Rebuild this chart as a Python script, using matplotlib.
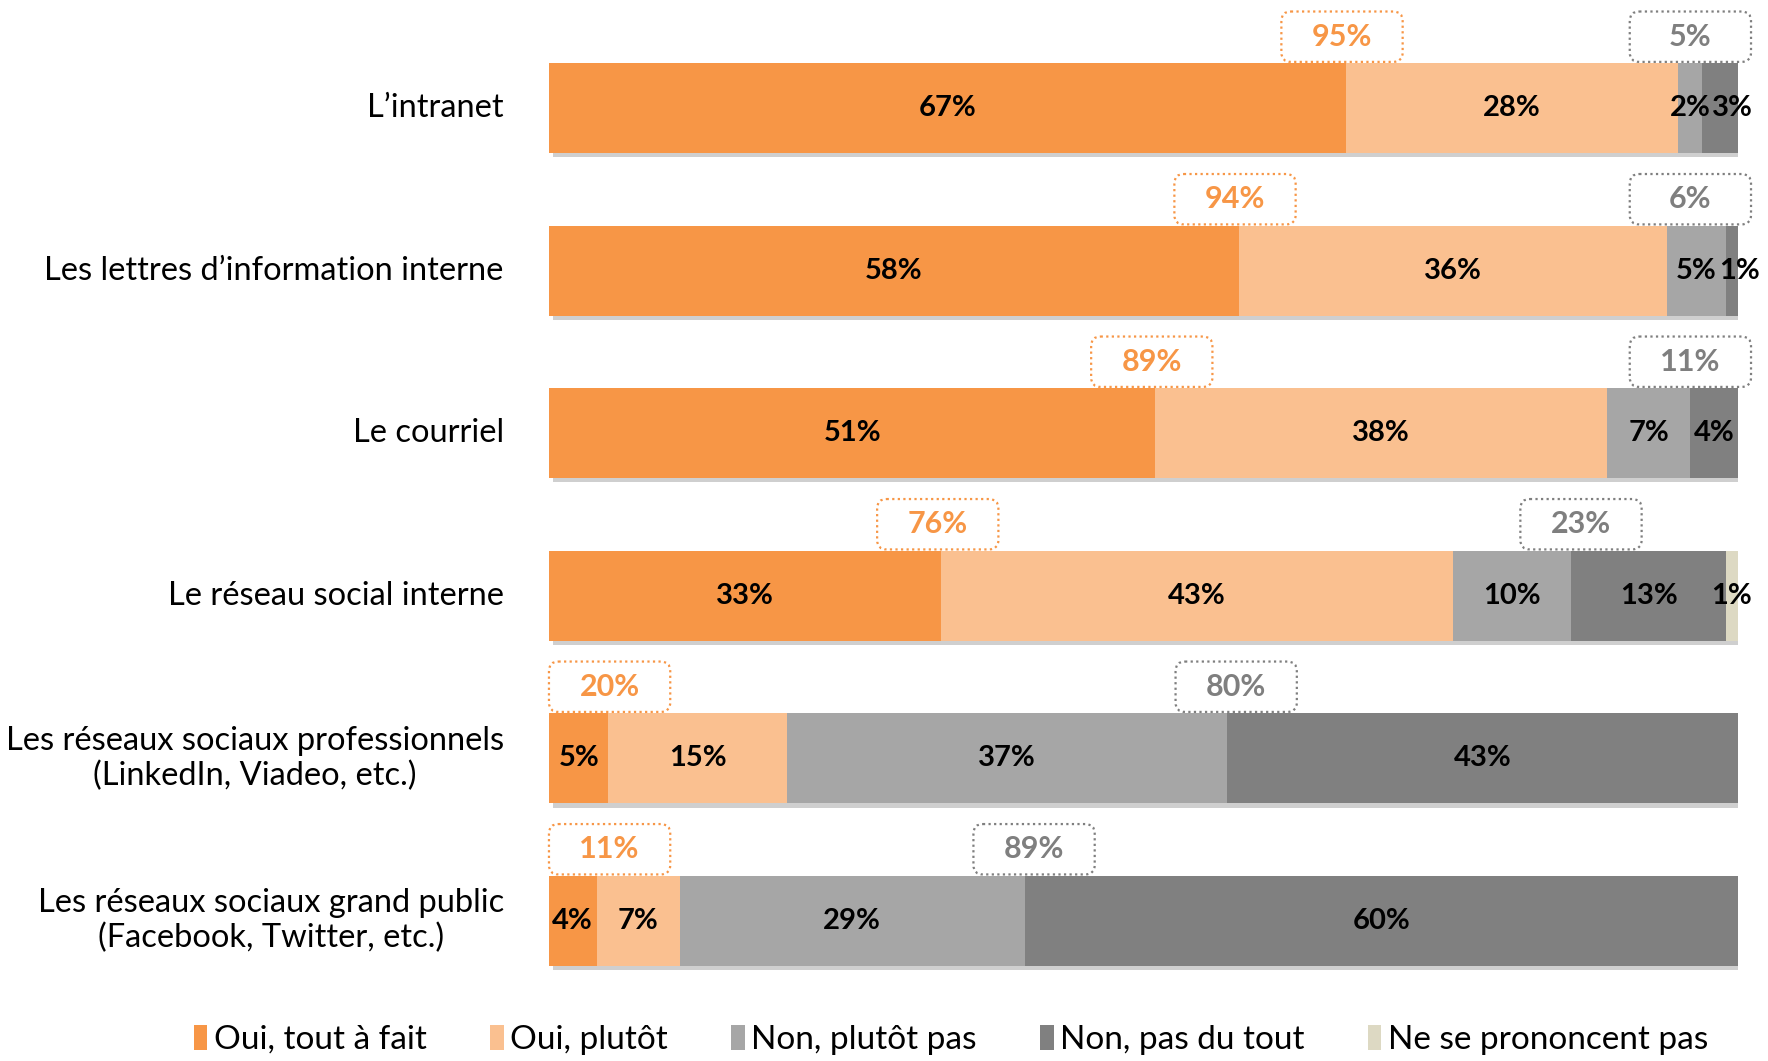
import matplotlib
matplotlib.use("Agg")
import numpy as np
import matplotlib.pyplot as plt
import matplotlib.patheffects as pe
from matplotlib.patches import FancyBboxPatch, Patch

plt.rcParams["font.family"] = ["Lato", "DejaVu Sans"]

categories = [
    "L\u2019intranet",
    "Les lettres d\u2019information interne",
    "Le courriel",
    "Le réseau social interne",
    "Les réseaux sociaux professionnels\n(LinkedIn, Viadeo, etc.)",
    "Les réseaux sociaux grand public\n(Facebook, Twitter, etc.)",
]
series_names = ["Oui, tout à fait", "Oui, plutôt", "Non, plutôt pas",
                "Non, pas du tout", "Ne se prononcent pas"]
oui_tout = [67, 58, 51, 33, 5, 4]
oui_plutot = [28, 36, 38, 43, 15, 7]
non_plutot = [2, 5, 7, 10, 37, 29]
non_pas = [3, 1, 4, 13, 43, 60]
nsp = [0, 0, 0, 1, 0, 0]
total_oui = [95, 94, 89, 76, 20, 11]
total_non = [5, 6, 11, 23, 80, 89]

colors = ["#F79646", "#FAC090", "#A6A6A6", "#808080", "#DDD9C3"]
orange_txt = "#F79646"
gray_txt = "#7F7F7F"

fig = plt.figure(figsize=(17.68, 10.61), dpi=100)
ax = fig.add_axes([0.3105, 0.0556, 0.6725, 0.919])

y = np.arange(len(categories))
series = [oui_tout, oui_plutot, non_plutot, non_pas, nsp]
left = np.zeros(len(categories))
shadow = [pe.SimplePatchShadow(offset=(3, -3), shadow_rgbFace="#a8a8a8", alpha=0.55),
          pe.Normal()]
for k, (vals, col, name) in enumerate(zip(series, colors, series_names)):
    vals = np.array(vals, dtype=float)
    bars = ax.barh(y, vals, left=left, height=0.555, color=col, label=name,
                   edgecolor="none")
    for b in bars:
        b.set_path_effects(shadow)
    for i, (yi, v, l) in enumerate(zip(y, vals, left)):
        if v <= 0:
            continue
        x = l + v / 2
        # tiny end segment right after another small one: push its label right
        prev = series[k - 1][i] if k > 0 else 99
        if v < 4 and l + v >= 99 and prev < 6:
            x += 1.0 if prev < 4 else 0.6
        ax.text(x, yi, f"{int(v)}%", ha="center", va="center",
                fontsize=21, fontweight="bold", color="black")
    left += vals

# dotted total boxes above each bar
box_w, box_h = 10.2, 0.31
aspect = (1 / 162.5) / (1 / 11.89)


def total_box(cx, cy, txt, col):
    p = FancyBboxPatch((cx - box_w / 2, cy - box_h / 2), box_w, box_h,
                       boxstyle="round,pad=0,rounding_size=0.8",
                       mutation_aspect=aspect, facecolor="white",
                       edgecolor=col, linestyle=(0, (1, 1.5)), linewidth=1.6,
                       clip_on=False, zorder=4)
    ax.add_patch(p)
    ax.text(cx, cy, txt, ha="center", va="center", fontsize=22,
            fontweight="bold", color=col, zorder=5, clip_on=False)


cum1 = np.array(oui_tout)
cum3 = np.array(oui_tout) + np.array(oui_plutot) + np.array(non_plutot)
for i in range(len(categories)):
    cx_oui = max(cum1[i] - 0.3, box_w / 2)
    cx_non = min(cum3[i] + 0.8, 96.0)
    total_box(cx_oui, y[i] - 0.44, f"{total_oui[i]}%", orange_txt)
    total_box(cx_non, y[i] - 0.44, f"{total_non[i]}%", gray_txt)

for yi, lab in zip(y, categories):
    ax.text(-3.8, yi, lab, ha="right", va="center", multialignment="center",
            fontsize=23.5, color="black", linespacing=1.2)

ax.set_xlim(0, 100)
ax.set_ylim(5.5, -0.5)
ax.axis("off")

handles = [Patch(facecolor=c, edgecolor="none") for c in colors]
fig.legend(handles, series_names, loc="center", bbox_to_anchor=(0.538, 0.02),
           ncol=5, frameon=False, fontsize=24, handlelength=0.4,
           handleheight=0.8, handletextpad=0.2, columnspacing=1.9)

fig.savefig("out.png", dpi=100, facecolor="white")
